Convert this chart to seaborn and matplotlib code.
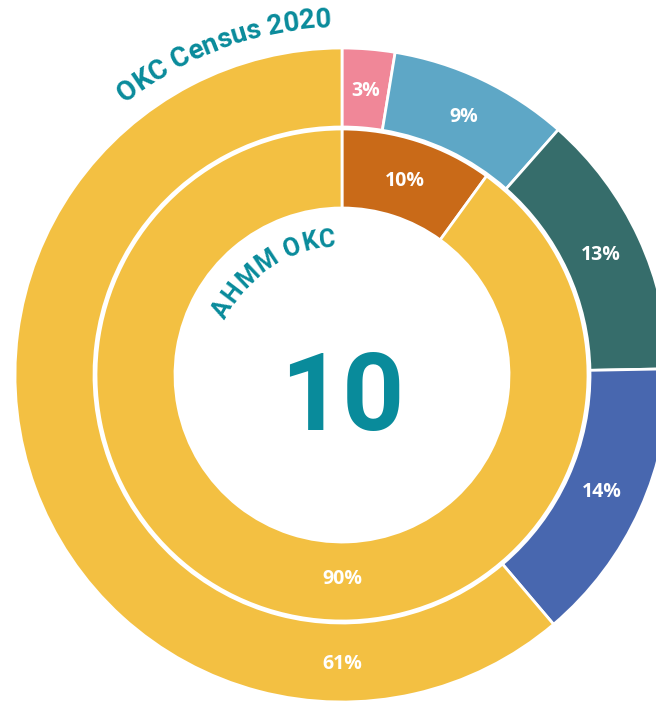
import numpy as np
import matplotlib
matplotlib.use("Agg")
import matplotlib.pyplot as plt
import seaborn as sns
from matplotlib.font_manager import FontProperties
from matplotlib.textpath import text_to_path

# ---- data ----
outer_values = [2.6, 8.9, 13.2, 14.1, 61.2]
outer_colors = ["#F08798", "#5EA7C6", "#366D6B", "#4867AF", "#F3C042"]
inner_values = [10, 90]
inner_colors = ["#C96A18", "#F3C042"]
outer_title = "OKC Census 2020"
inner_title = "AHMM OKC"
center_value = "10"

TEAL = "#098B9B"

sns.set_theme(style="white")
plt.rcParams['font.family'] = ['Roboto', 'DejaVu Sans']

fig = plt.figure(figsize=(6.56, 7.03), dpi=100)
ax = fig.add_axes([0, 0, 1, 1])
cx, cy = 342, 328

lbl_props = dict(color='white', fontsize=14, fontweight='bold',
                 family=['Open Sans', 'DejaVu Sans'])

R_OUT, R_IN, W = 327, 246, 79
PD_OUT, PD_IN = 0.872, 0.83

_, _, at_out = ax.pie(outer_values, radius=R_OUT, center=(cx, cy), startangle=90,
                      counterclock=False, colors=outer_colors,
                      wedgeprops=dict(width=W, edgecolor='white', linewidth=2),
                      autopct=lambda p: f"{p:.0f}%", pctdistance=PD_OUT,
                      textprops=lbl_props)
_, _, at_in = ax.pie(inner_values, radius=R_IN, center=(cx, cy), startangle=90,
                     counterclock=False, colors=inner_colors,
                     wedgeprops=dict(width=W, edgecolor='white', linewidth=2),
                     autopct=lambda p: f"{p:.0f}%", pctdistance=PD_IN,
                     textprops=lbl_props)

# the large majority slice labels sit at the bottom of the ring
at_out[-1].set_position((cx, cy - 0.885 * R_OUT))
at_in[-1].set_position((cx, cy - PD_IN * R_IN))


def arc_text(text, r_base, a_first, a_last, size):
    fp = FontProperties(family='Roboto', weight='bold', size=size)
    widths = []
    for ch in text:
        if ch == ' ':
            widths.append(0.26 * size)
        else:
            w, h, d = text_to_path.get_text_width_height_descent(ch, fp, ismath=False)
            widths.append(w)
    widths = np.array(widths)
    centers = np.cumsum(widths) - widths / 2
    t = (centers - centers[0]) / (centers[-1] - centers[0])
    angles = a_first + t * (a_last - a_first)
    for ch, a in zip(text, angles):
        if ch == ' ':
            continue
        th = np.radians(a)
        x = cx + r_base * np.sin(th)
        y = cy + r_base * np.cos(th)
        ax.text(x, y, ch, rotation=-a, rotation_mode='anchor', ha='center',
                va='baseline', fontproperties=fp, color=TEAL)


arc_text(outer_title, 348, -37, -3, 20)
arc_text(inner_title, 129, -61, -6, 18)

ax.text(cx, 703 - 430, center_value, ha='center', va='baseline',
        fontsize=78, fontweight='bold', color=TEAL, family=['Roboto', 'DejaVu Sans'])

ax.set_xlim(0, 656)
ax.set_ylim(0, 703)
ax.set_aspect('equal')
ax.axis('off')

fig.savefig("out.png", dpi=100)
